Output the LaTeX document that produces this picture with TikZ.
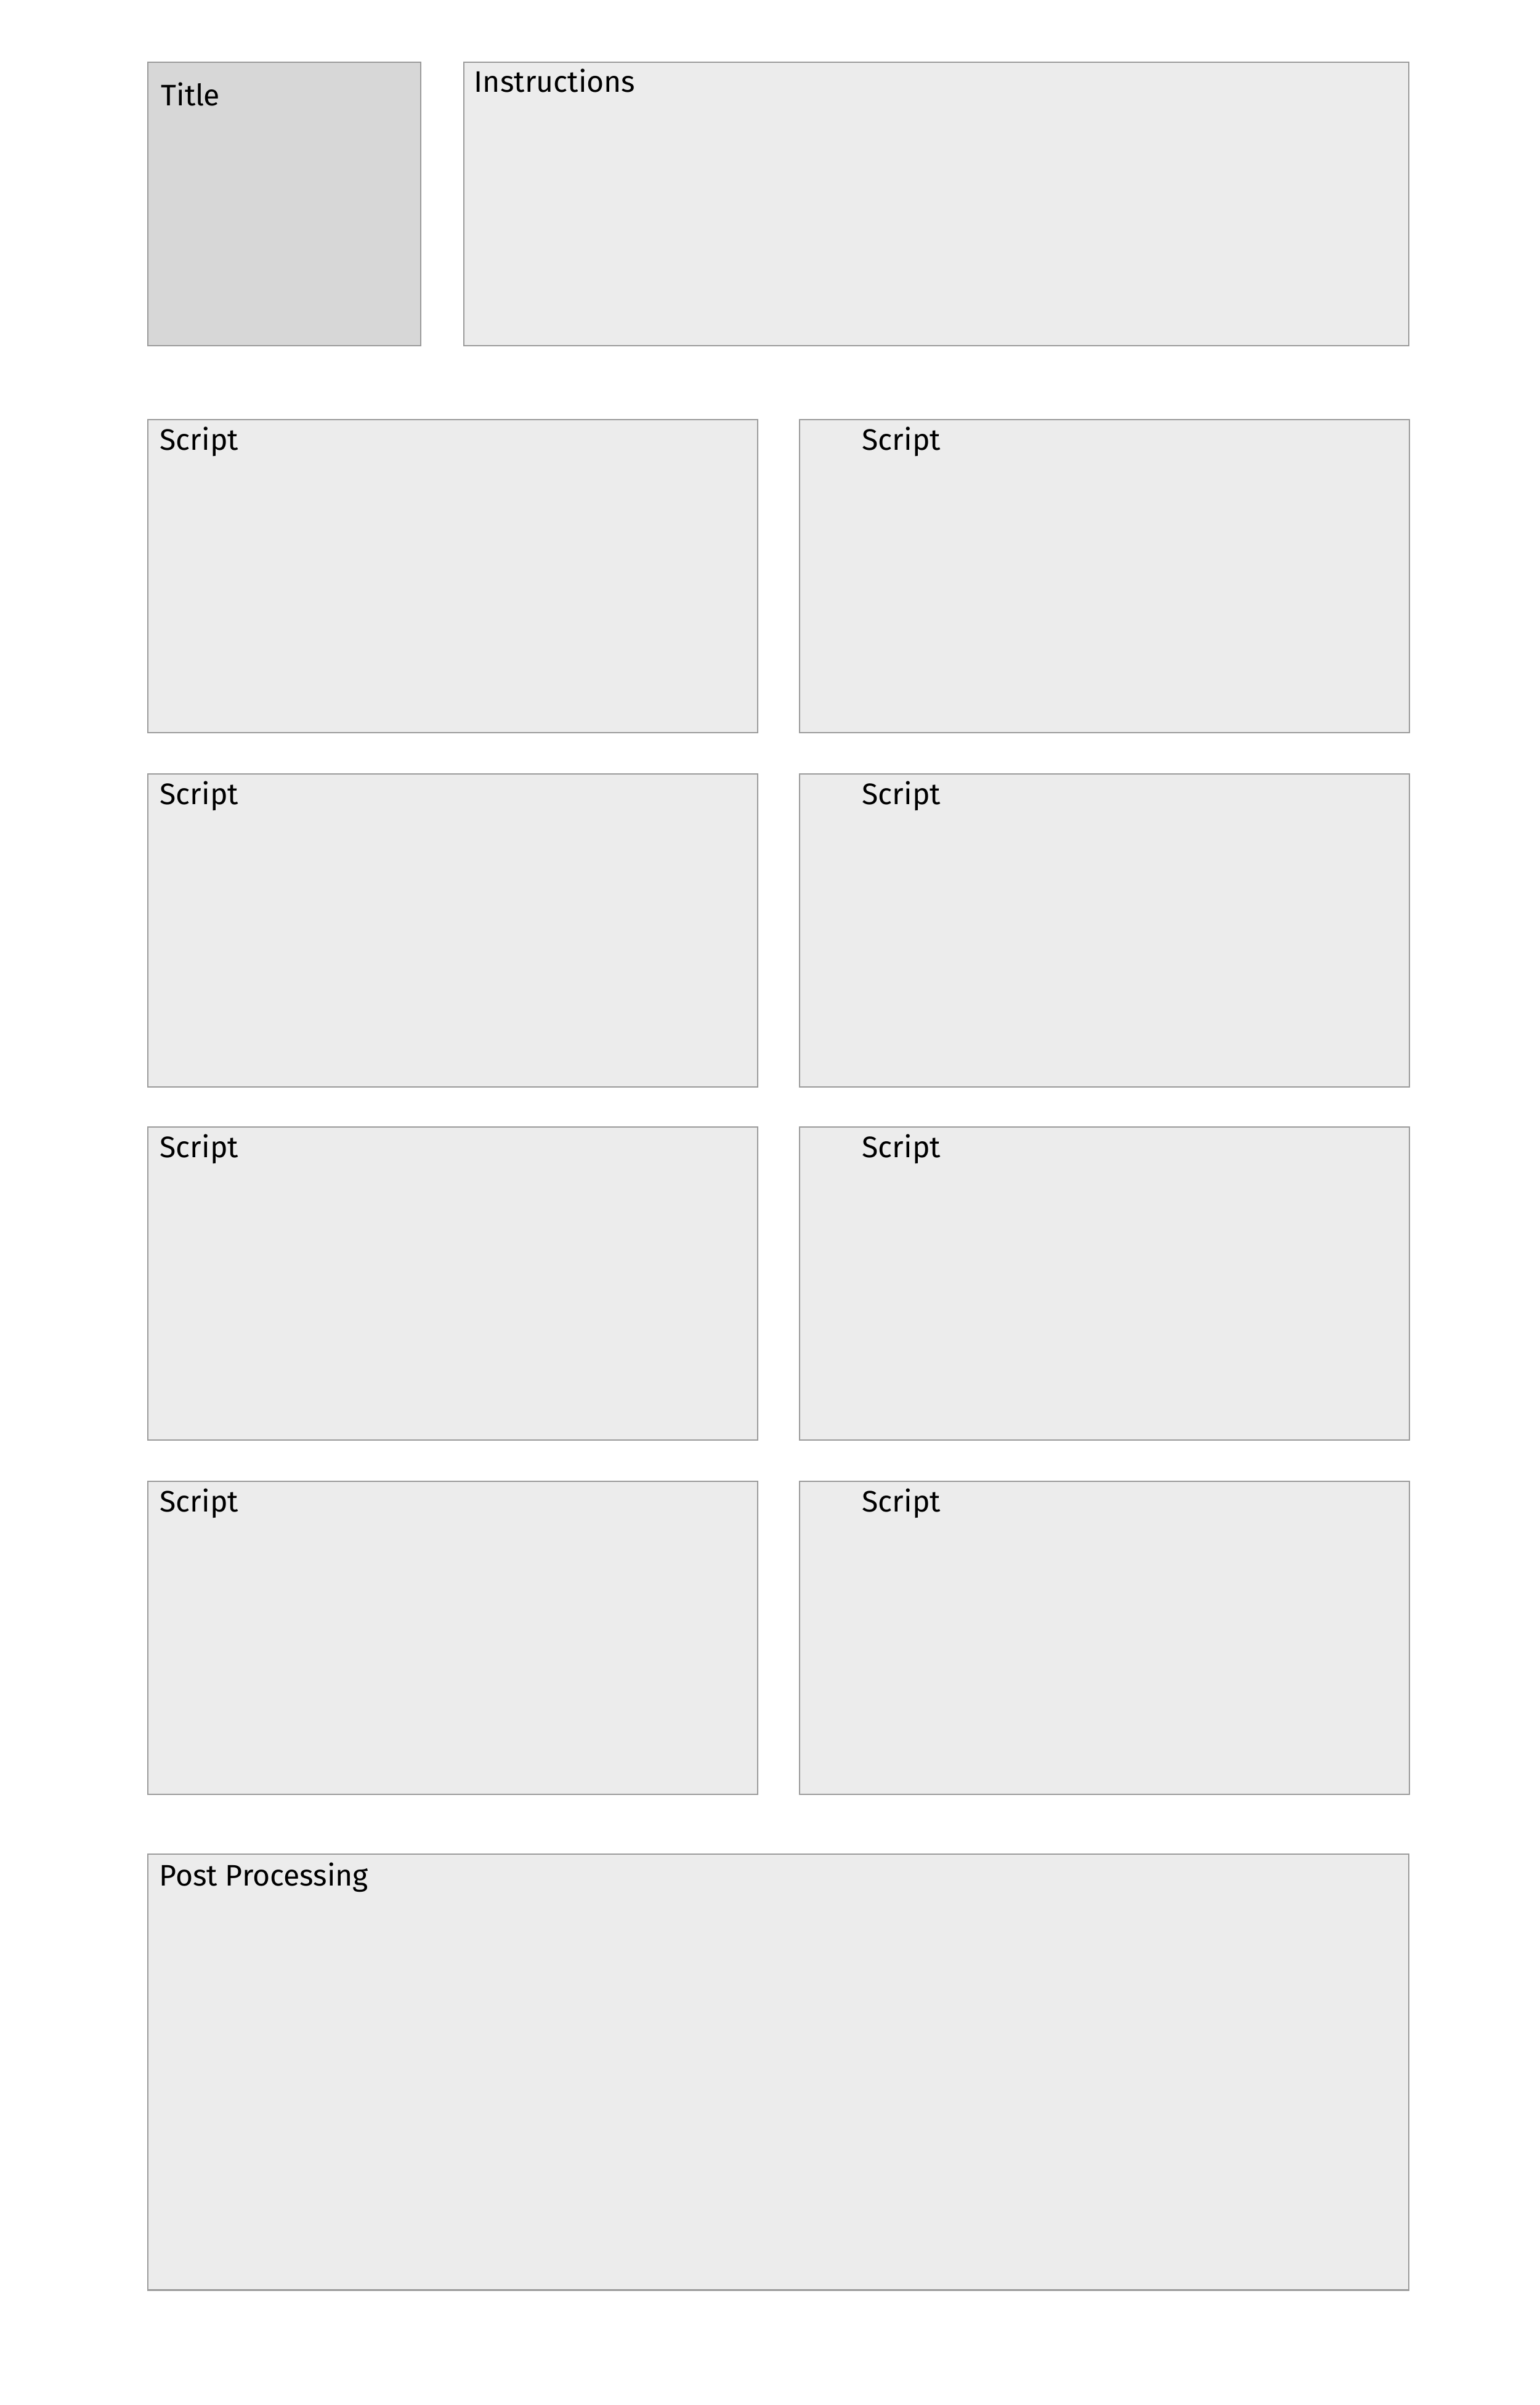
\documentclass[tikz,border=0pt]{standalone}
\usepackage{fontspec}
\setmainfont{Fira Sans}
\usetikzlibrary{calc}
\definecolor{boxfill}{HTML}{ECECEC}
\definecolor{titlefill}{HTML}{D7D7D7}
\definecolor{boxline}{HTML}{9A9A9A}
\tikzset{
	panel/.style={draw=boxline, fill=boxfill, line width=0.7pt, rectangle, inner sep=0pt, anchor=north west},
	caption/.style={anchor=base west, inner sep=0pt, font=\fontsize{13.7}{16}\selectfont, text=black}
}
\begin{document}
\begin{tikzpicture}
			\useasboundingbox (0,0) rectangle (25,-39.03);
			% top row
			\node[panel, fill=titlefill, minimum width=4.43cm, minimum height=4.60cm] (title) at (2.39,-1.00) {};
			\node[panel, minimum width=15.34cm, minimum height=4.60cm] (instr) at (7.52,-1.00) {};
			\node[caption] (titletext) at ($(title.north west)+(0.22,-0.72)$) {Title};
			\node[caption] (instrtext) at ($(instr.north west)+(0.17,-0.50)$) {Instructions};
			% script panels
			\foreach \y [count=\i] in {6.80,12.55,18.28,24.03}{
				\node[panel, minimum width=9.90cm, minimum height=5.08cm] (scriptL\i) at (2.39,-\y) {};
				\node[panel, minimum width=9.90cm, minimum height=5.08cm] (scriptR\i) at (12.97,-\y) {};
				\node[caption] (scriptLtext\i) at ($(scriptL\i.north west)+(0.20,-0.50)$) {Script};
				\node[caption] (scriptRtext\i) at ($(scriptR\i.north west)+(1.02,-0.50)$) {Script};
			}
			% post processing
			\node[panel, minimum width=20.47cm, minimum height=7.07cm] (post) at (2.39,-30.08) {};
			\node[caption] (posttext) at ($(post.north west)+(0.19,-0.52)$) {Post Processing};
		\end{tikzpicture}
\end{document}
